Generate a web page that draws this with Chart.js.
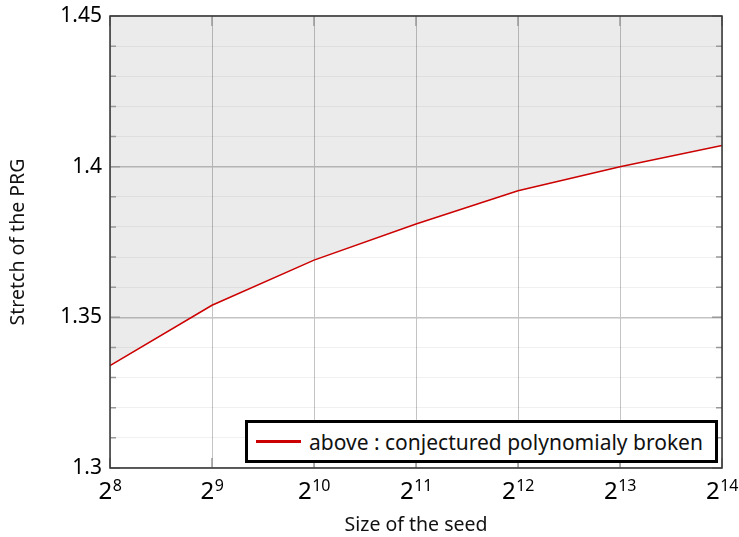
<!DOCTYPE html>
<html>
<head>
<meta charset="utf-8">
<script src="https://cdn.jsdelivr.net/npm/chart.js@4"></script>
<style>
  body { margin: 0; background: #fff; }
  #wrap { position: relative; width: 739px; height: 537px; }
  #legend {
    position: absolute; left: 245px; top: 420px; width: 467px; height: 37px;
    border: 3px solid #000; background: #fff;
    font-family: "Noto Sans", sans-serif; font-size: 21px; color: #111;
    display: flex; align-items: center; box-sizing: content-box; white-space: nowrap;
  }
  #legend span.swatch { display: inline-block; width: 45px; height: 3px; background: #cc0000; margin: 0 8px 0 8px; }
</style>
</head>
<body>
<div id="wrap">
  <canvas id="chart" width="739" height="537"></canvas>
  <div id="legend"><span class="swatch"></span><span>above : conjectured polynomialy broken</span></div>
</div>
<script>
// seed sizes (powers of two) and measured stretch
const seedSizes = [256, 512, 1024, 2048, 4096, 8192, 16384];
const stretch = [1.334, 1.354, 1.369, 1.381, 1.392, 1.400, 1.407];
const yMajor = [1.3, 1.35, 1.4, 1.45];

function isMajor(v) {
  return yMajor.some(m => Math.abs(m - v) < 1e-6);
}

// frame, inward tick marks and 2^n tick labels
const framePlugin = {
  id: 'frame',
  afterDraw(chart) {
    const { ctx, chartArea: a, scales } = chart;
    ctx.save();
    ctx.strokeStyle = '#999';
    ctx.lineWidth = 1.5;
    scales.y.ticks.forEach(t => {
      const py = scales.y.getPixelForValue(t.value);
      const len = isMajor(t.value) ? 10 : 6;
      ctx.beginPath();
      ctx.moveTo(a.left, py); ctx.lineTo(a.left + len, py);
      ctx.moveTo(a.right, py); ctx.lineTo(a.right - len, py);
      ctx.stroke();
    });
    scales.x.ticks.forEach(t => {
      const px = scales.x.getPixelForValue(t.value);
      ctx.beginPath();
      ctx.moveTo(px, a.top); ctx.lineTo(px, a.top + 10);
      ctx.moveTo(px, a.bottom); ctx.lineTo(px, a.bottom - 10);
      ctx.stroke();
    });
    ctx.strokeStyle = '#333';
    ctx.lineWidth = 1.5;
    ctx.strokeRect(a.left, a.top, a.right - a.left, a.bottom - a.top);

    // x labels: base 2 with raised exponent
    ctx.fillStyle = '#000';
    ctx.textBaseline = 'alphabetic';
    scales.x.ticks.forEach(t => {
      const px = scales.x.getPixelForValue(t.value);
      const exp = String(Math.round(Math.log2(t.value)));
      ctx.font = '24px "Noto Sans"';
      const wb = ctx.measureText('2').width;
      ctx.font = '16px "Noto Sans"';
      const we = ctx.measureText(exp).width;
      const x0 = px - (wb + we) / 2;
      ctx.font = '24px "Noto Sans"';
      ctx.textAlign = 'left';
      ctx.fillText('2', x0, a.bottom + 31);
      ctx.font = '16px "Noto Sans"';
      ctx.fillText(exp, x0 + wb + 0.5, a.bottom + 23);
    });
    ctx.restore();
  }
};

const ctx = document.getElementById('chart').getContext('2d');
new Chart(ctx, {
  type: 'line',
  data: {
    labels: seedSizes,
    datasets: [{
      label: 'above : conjectured polynomialy broken',
      data: seedSizes.map((s, i) => ({ x: s, y: stretch[i] })),
      borderColor: '#cc0000',
      borderWidth: 1.5,
      backgroundColor: 'rgba(0,0,0,0.08)',
      fill: 'end',
      pointRadius: 0,
      tension: 0,
    }],
  },
  options: {
    responsive: false,
    animation: false,
    layout: { padding: { top: 16, right: 17, left: 3, bottom: 0 } },
    plugins: { legend: { display: false }, tooltip: { enabled: false } },
    scales: {
      x: {
        type: 'logarithmic',
        min: 256,
        max: 16384,
        afterBuildTicks: (scale) => { scale.ticks = seedSizes.map(v => ({ value: v })); },
        afterFit: (scale) => { scale.height = 69; scale.paddingLeft = 0; scale.paddingRight = 0; },
        ticks: {
          autoSkip: false,
          maxRotation: 0,
          font: { family: 'Noto Sans', size: 19 },
          callback: () => '',
        },
        grid: { color: '#c4c4c4', lineWidth: 1, drawTicks: false },
        border: { display: false },
        title: {
          display: true, text: 'Size of the seed', color: '#111',
          font: { family: 'Noto Sans', size: 19.5 }, padding: { top: 0, bottom: 0 },
        },
      },
      y: {
        min: 1.3,
        max: 1.45,
        afterFit: (scale) => { scale.width = 107; scale.paddingTop = 0; scale.paddingBottom = 0; },
        ticks: {
          stepSize: 0.01,
          autoSkip: false,
          color: '#000',
          font: { family: 'Noto Sans', size: 21 },
          padding: 8,
          callback: (v) => isMajor(v) ? String(Math.round(v * 100) / 100) : '',
        },
        grid: {
          drawTicks: false,
          color: (c) => isMajor(c.tick.value) ? '#c4c4c4' : 'rgba(0,0,0,0.06)',
          lineWidth: (c) => isMajor(c.tick.value) ? 1.5 : 1,
        },
        border: { display: false },
        title: {
          display: true, text: 'Stretch of the PRG', color: '#111',
          font: { family: 'Noto Sans', size: 19.5 }, padding: { top: 4, bottom: 8 },
        },
      },
    },
  },
  plugins: [framePlugin],
});
</script>
</body>
</html>
